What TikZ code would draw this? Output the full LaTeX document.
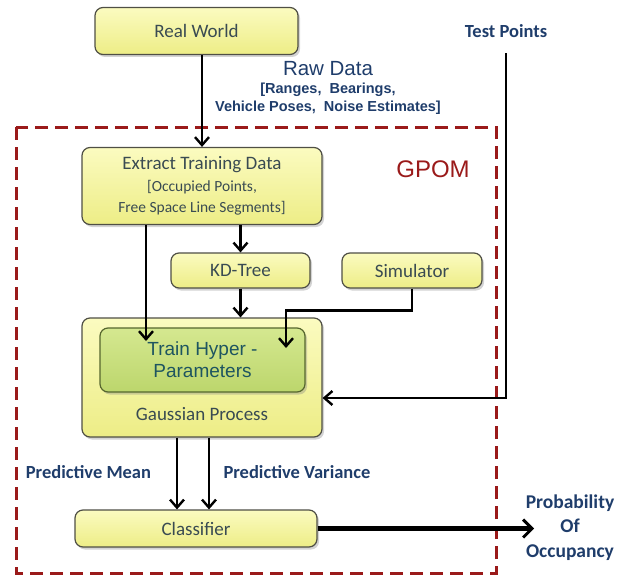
\documentclass[tikz,border=0pt]{standalone}
\usepackage{fontspec}
\setmainfont{Carlito}
\newfontfamily\arialfont{Liberation Sans}
\usetikzlibrary{arrows.meta, positioning, calc, shadows}
\definecolor{boxtop}{HTML}{FBFBC0}
\definecolor{boxbot}{HTML}{EDED86}
\definecolor{boxedge}{HTML}{4F4F45}
\definecolor{boxtext}{HTML}{3A4B52}
\definecolor{greentop}{HTML}{D5E890}
\definecolor{greenbot}{HTML}{BCD66C}
\definecolor{greenedge}{HTML}{56662E}
\definecolor{greentext}{HTML}{1E5560}
\definecolor{labelblue}{HTML}{1F3D6B}
\definecolor{gpomred}{HTML}{9A1A1A}
\newcommand{\subline}{\fontsize{15.5}{19}\selectfont}

\begin{document}
\begin{tikzpicture}[
  x=1pt, y=-1pt,
  block/.style={
    draw=boxedge, line width=1.2pt, rounded corners=8pt,
    top color=boxtop, bottom color=boxbot, text=boxtext,
    font=\fontsize{19}{21}\selectfont, align=center, inner sep=0pt,
    drop shadow={opacity=0.35, shadow xshift=2pt, shadow yshift=-2.5pt}
  },
  trainbox/.style={
    draw=greenedge, line width=1.2pt, rounded corners=8pt,
    top color=greentop, bottom color=greenbot, text=greentext,
    font=\arialfont\fontsize{19}{22}\selectfont, align=center, inner sep=0pt,
    drop shadow={opacity=0.35, shadow xshift=2pt, shadow yshift=-2.5pt}
  },
  bluelabel/.style={text=labelblue, font=\bfseries\fontsize{18.5}{24}\selectfont, align=center},
  flow/.style={-{Straight Barb[length=8pt, width=14pt, line width=2.4pt]}, line width=2.8pt, black}
]
  \useasboundingbox (0,0) rectangle (623,575);

  % GPOM frame
  \draw[gpomred, line width=3pt, dash pattern=on 13pt off 7pt] (16,127) rectangle (496,573);
  \node[text=gpomred, font=\arialfont\fontsize{24}{28}\selectfont] (gpom) at (433,169) {GPOM};

  % boxes
  \node[block, minimum width=203pt, minimum height=47pt] (world) at (196.5,31) {Real World};
  \node[block, minimum width=240pt, minimum height=77pt] (extract) at (202,186)
    {Extract Training Data\\[1pt]\subline [Occupied Points,\\\subline Free Space Line Segments]};
  \node[block, minimum width=139pt, minimum height=35pt] (kdtree) at (240.5,270.5) {KD-Tree};
  \node[block, minimum width=140pt, minimum height=35pt] (simulator) at (412,270.5) {Simulator};
  \node[block, minimum width=240pt, minimum height=119pt] (gp) at (202,377.5) {};
  \node[trainbox, minimum width=205pt, minimum height=64pt] (train) at (202.5,360)
    {Train Hyper -\\Parameters};
  \node[text=boxtext, font=\fontsize{19}{21}\selectfont] (gptext) at (202,414) {Gaussian Process};
  \node[block, minimum width=242pt, minimum height=37pt] (classifier) at (196,528.5) {Classifier};

  % labels
  \node[bluelabel] (test) at (506,31) {Test Points};
  \node[text=labelblue, font=\arialfont\fontsize{20.5}{22}\selectfont] (raw) at (328,69) {Raw Data};
  \node[text=labelblue, font=\arialfont\bfseries\fontsize{14.5}{18}\selectfont, align=center,
        below=0pt of raw] (rawlist) {[Ranges,\ \ Bearings,\\Vehicle Poses,\ \ Noise Estimates]};
  \node[bluelabel] (mean) at (88.5,472) {Predictive Mean};
  \node[bluelabel] (variance) at (297,472) {Predictive Variance};
  \node[bluelabel, font=\bfseries\fontsize{19.5}{24.5}\selectfont] (prob) at (570,527.5)
    {Probability\\Of\\Occupancy};

  % connectors
  \coordinate (trainL) at (146,341);
  \coordinate (trainR) at (286,348);
  \draw[flow] (world.south -| extract.north) -- (extract.north);
  \draw[flow] (extract.south -| kdtree.north) -- (kdtree.north);
  \draw[flow] (kdtree.south) -- (kdtree.south |- gp.north);
  \draw[flow] (extract.south -| trainL) -- (trainL);
  \draw[flow] (simulator.south) -- ++(0,22) -| (trainR);
  \draw[flow] ([yshift=-12pt]test.south) |- ([yshift=-20.5pt]gp.east);
  \draw[flow] ([xshift=-25pt]gp.south) -- ([xshift=-25pt]gp.south |- classifier.north);
  \draw[flow] ([xshift=7pt]gp.south) -- ([xshift=7pt]gp.south |- classifier.north);
  \draw[-{Straight Barb[length=9pt, width=18pt, line width=3pt]}, line width=4.5pt, black]
    (classifier.east) -- ([xshift=12pt]classifier.east -| prob.west);
\end{tikzpicture}
\end{document}
